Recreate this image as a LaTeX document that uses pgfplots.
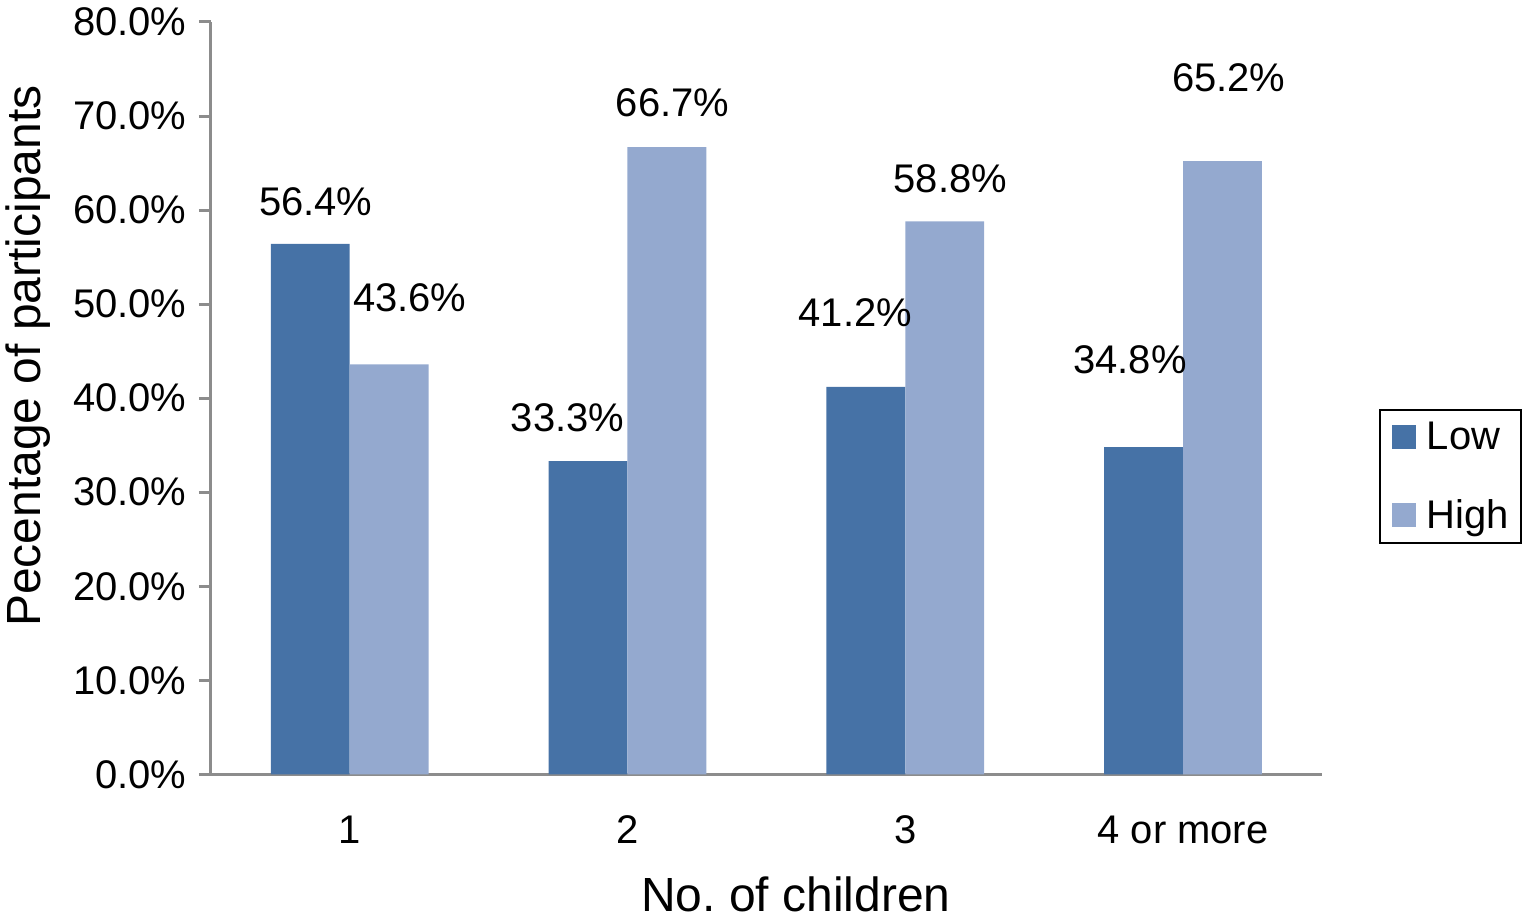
\documentclass[border=0pt]{standalone}
\usepackage{fontspec}
\setmainfont{Liberation Sans}
\usepackage{pgfplots}
\pgfplotsset{compat=1.18}
\definecolor{lowc}{RGB}{70,114,166}
\definecolor{highc}{RGB}{148,169,207}
\definecolor{axgray}{RGB}{140,140,140}
\begin{document}
\begin{tikzpicture}
\begin{axis}[
  scale only axis,
  width=556pt, height=376.5pt,
  ybar=0pt, bar width=39.5pt,
  xmin=-0.5, xmax=3.5, ymin=0, ymax=80,
  xtick={0,1,2,3}, xticklabels={1,2,3,4 or more},
  ytick={0,10,...,80},
  yticklabels={0.0\%,10.0\%,20.0\%,30.0\%,40.0\%,50.0\%,60.0\%,70.0\%,80.0\%},
  axis x line=bottom, axis y line=left,
  axis line style={-, draw=axgray, line width=1.5pt},
  x tick style={draw=none},
  y tick style={draw=axgray, line width=1.5pt},
  tick align=outside, major tick length=6pt,
  ticklabel style={font=\fontsize{20}{24}\selectfont, inner sep=0pt},
  yticklabel style={xshift=-6pt},
  xticklabel style={yshift=-14.5pt},
  xlabel={No.\ of children},
  ylabel={Pecentage of participants},
  label style={font=\fontsize{24}{28}\selectfont, inner sep=0pt},
  xlabel style={at={(axis description cs:0.5265,0)}, anchor=north, yshift=-51pt},
  ylabel style={at={(axis description cs:0,0.556)}, anchor=center, yshift=91.5pt},
  clip=false,
  legend style={at={(1,0.396)}, anchor=west, xshift=28.5pt, draw=black, line width=1pt,
    font=\fontsize{20}{24}\selectfont, row sep=19.5pt, inner xsep=6pt, inner ysep=4pt,
    nodes={inner xsep=0pt}},
  legend cell align=left,
  legend image code/.code={\fill[#1, draw=none] (0pt,-6pt) rectangle (12pt,6pt); \path (17.5pt,0pt);},
]
\addplot[fill=lowc, draw=none] coordinates {(0,56.4) (1,33.3) (2,41.2) (3,34.8)};
\addplot[fill=highc, draw=none] coordinates {(0,43.6) (1,66.7) (2,58.8) (3,65.2)};
\legend{Low,High}
\begin{scope}[font=\fontsize{20}{24}\selectfont]
\node at (axis cs:-0.122,60.9) {56.4\%};
\node at (axis cs:0.216,50.7) {43.6\%};
\node at (axis cs:0.784,37.9) {33.3\%};
\node at (axis cs:1.162,71.4) {66.7\%};
\node at (axis cs:1.820,49.1) {41.2\%};
\node at (axis cs:2.162,63.3) {58.8\%};
\node at (axis cs:2.809,44.1) {34.8\%};
\node at (axis cs:3.165,74.05) {65.2\%};
\end{scope}
\coordinate (O) at (rel axis cs:0,0);
\end{axis}
\path (O) ++(-105.5pt,-73pt) rectangle ++(761pt,460.5pt);
\end{tikzpicture}
\end{document}
